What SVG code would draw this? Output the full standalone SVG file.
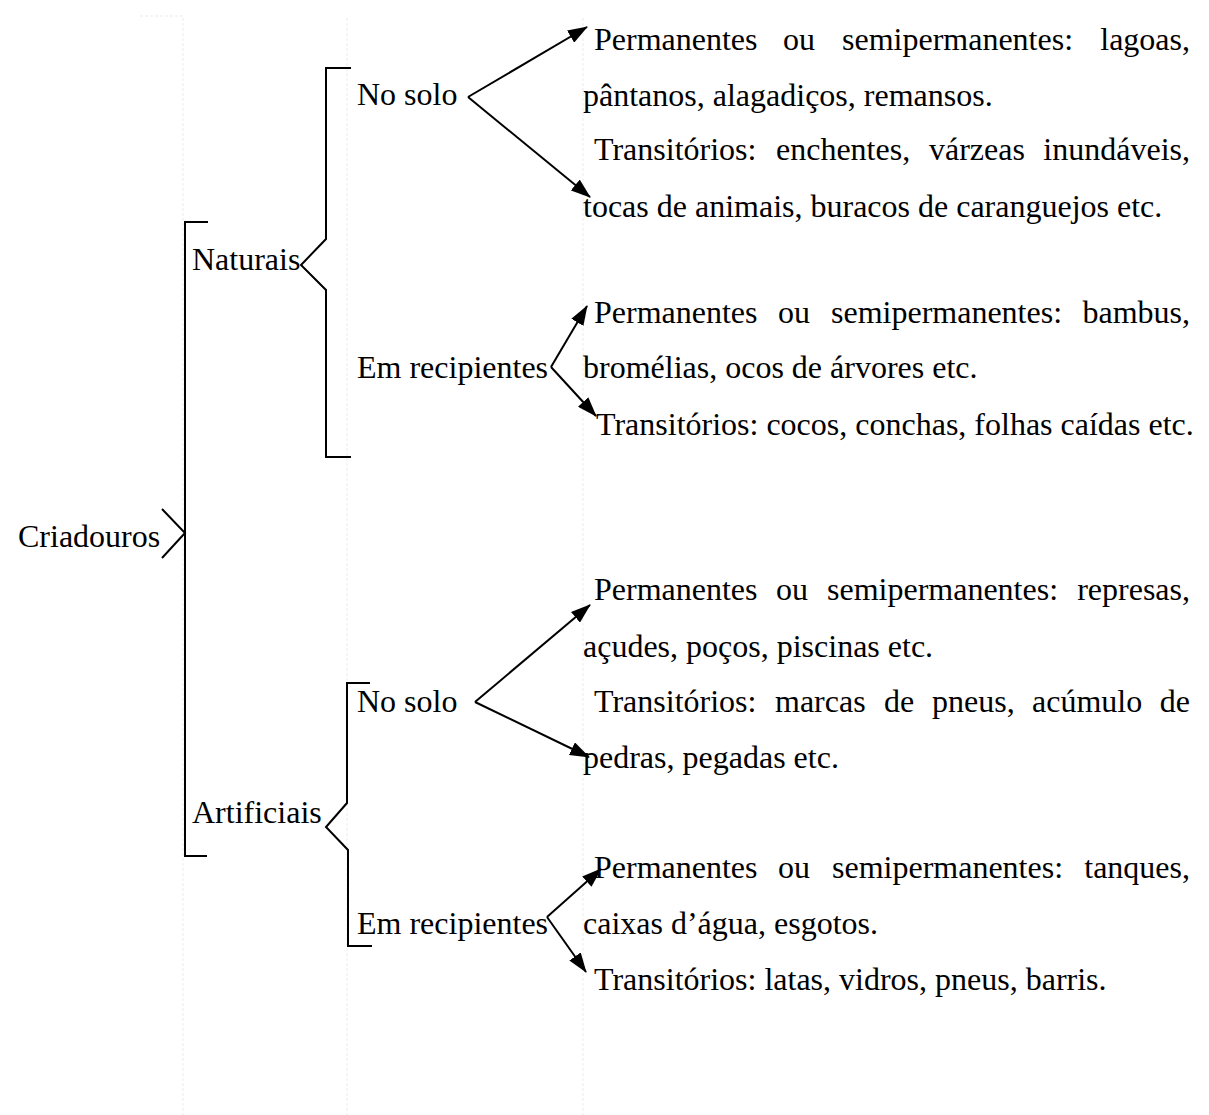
<svg xmlns="http://www.w3.org/2000/svg" width="1209" height="1115" viewBox="0 0 1209 1115">
<style>
text{font-family:"Liberation Serif","Times New Roman",serif;font-size:32px;fill:#000}
.br{fill:none;stroke:#000;stroke-width:2}
.ar{fill:none;stroke:#000;stroke-width:2;marker-end:url(#ah)}
.grid{fill:none;stroke:#ebebeb;stroke-width:1;stroke-dasharray:3 2}
.e{text-anchor:end}
</style>
<defs>
<marker id="ah" viewBox="0 0 20 14" refX="19" refY="7" markerWidth="20" markerHeight="14" markerUnits="userSpaceOnUse" orient="auto">
<path d="M0,0 L20,7 L0,14 Z" fill="#000"/>
</marker>
</defs>
<rect width="1209" height="1115" fill="#fff"/>
<g id="grid">
<path class="grid" d="M140,16 H183 M183,18 V1115 M347,18 V1115 M583,18 V1115"/>
</g>
<g id="connectors">
<path class="br" d="M208,222 H185 V856 H207"/>
<path class="br" d="M162,509 L185,533 L162,558"/>
<path class="br" d="M351,68 H326 V239 L301,265 L326,290 V457 H351"/>
<path class="br" d="M370,683 H347 V803 L326,827 L348,850 V946 H372"/>
<path class="ar" d="M468,97 L587,27"/>
<path class="ar" d="M468,97 L590,197"/>
<path class="ar" d="M551,367 L587,306"/>
<path class="ar" d="M551,367 L596,416"/>
<path class="ar" d="M475,702 L590,605"/>
<path class="ar" d="M475,702 L589,757"/>
<path class="ar" d="M547,917 L601,869"/>
<path class="ar" d="M547,917 L586,972"/>
</g>
<g id="criadouros"><text x="18" y="547">Criadouros</text></g>
<g id="naturais"><text x="192" y="270">Naturais</text></g>
<g id="artificiais"><text x="192" y="823">Artificiais</text></g>
<g id="nat-solo"><text x="357" y="105">No solo</text></g>
<g id="nat-recip"><text x="357" y="378">Em recipientes</text></g>
<g id="art-solo"><text x="357" y="712">No solo</text></g>
<g id="art-recip"><text x="357" y="934">Em recipientes</text></g>
<g id="nat-solo-items">
<text x="594" y="50">Permanentes</text><text x="783" y="50">ou</text><text x="842" y="50">semipermanentes:</text><text class="e" x="1190" y="50">lagoas,</text>
<text x="583" y="106">pântanos, alagadiços, remansos.</text>
<text x="594" y="160">Transitórios:</text><text x="776" y="160">enchentes,</text><text x="929" y="160">várzeas</text><text class="e" x="1190" y="160">inundáveis,</text>
<text x="583" y="217">tocas de animais, buracos de caranguejos etc.</text>
</g>
<g id="nat-recip-items">
<text x="594" y="323">Permanentes</text><text x="778" y="323">ou</text><text x="831" y="323">semipermanentes:</text><text class="e" x="1190" y="323">bambus,</text>
<text x="583" y="378">bromélias, ocos de árvores etc.</text>
<text x="596" y="435">Transitórios: cocos, conchas, folhas caídas etc.</text>
</g>
<g id="art-solo-items">
<text x="594" y="600">Permanentes</text><text x="776" y="600">ou</text><text x="827" y="600">semipermanentes:</text><text class="e" x="1190" y="600">represas,</text>
<text x="583" y="657">açudes, poços, piscinas etc.</text>
<text x="594" y="712">Transitórios:</text><text x="775" y="712">marcas</text><text x="884" y="712">de</text><text x="932" y="712">pneus,</text><text x="1032" y="712">acúmulo</text><text class="e" x="1190" y="712">de</text>
<text x="583" y="768">pedras, pegadas etc.</text>
</g>
<g id="art-recip-items">
<text x="594" y="878">Permanentes</text><text x="778" y="878">ou</text><text x="832" y="878">semipermanentes:</text><text class="e" x="1190" y="878">tanques,</text>
<text x="583" y="934">caixas d’água, esgotos.</text>
<text x="594" y="990">Transitórios: latas, vidros, pneus, barris.</text>
</g>
</svg>
